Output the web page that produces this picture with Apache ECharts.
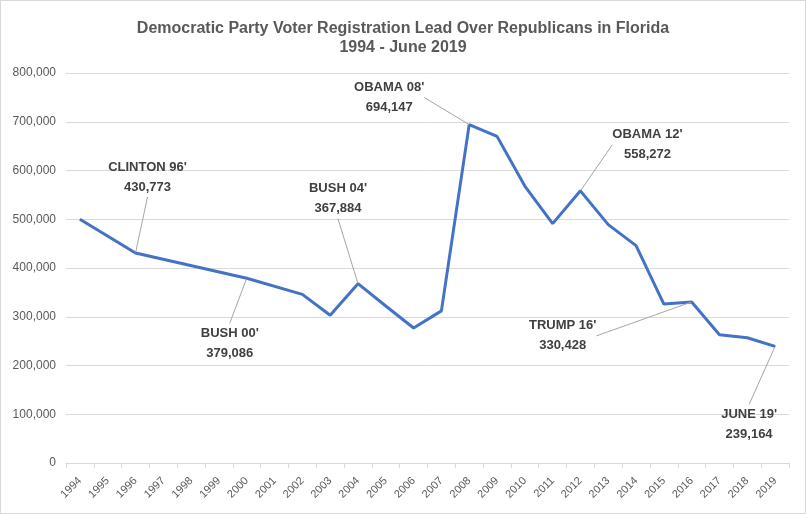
<!DOCTYPE html>
<html>
<head>
<meta charset="utf-8">
<script src="https://cdn.jsdelivr.net/npm/echarts@6/dist/echarts.min.js"></script>
<style>
  html, body { margin: 0; padding: 0; background: #fff; }
  #chart { width: 806px; height: 514px; box-sizing: border-box; border: 1px solid #d9d9d9; }
</style>
</head>
<body>
<div id="chart"></div>
<script>
// ---- Data ----
const years = ['1994','1995','1996','1997','1998','1999','2000','2001','2002','2003','2004','2005','2006',
               '2007','2008','2009','2010','2011','2012','2013','2014','2015','2016','2017','2018','2019'];
// Democratic registration lead (null = no data point shown in the reference)
const lead = [500000, null, 430773, null, null, null, 379086, null, 346000, 303000, 367884, 322000, 277000,
              312000, 694147, 670000, 568000, 491000, 558272, 489000, 446000, 326000, 330428, 263000, 257000, 239164];
const annoYears = ['1996', '2000', '2004', '2008', '2012', '2016', '2019'];
const annoNames = ["CLINTON 96'", "BUSH 00'", "BUSH 04'", "OBAMA 08'", "OBAMA 12'", "TRUMP 16'", "JUNE 19'"];
const yTicks = [0, 100000, 200000, 300000, 400000, 500000, 600000, 700000, 800000];

// ---- Label placement (pixel offsets of label centre from its point) ----
const labelOffsets = {
  '1996': [12, -76],
  '2000': [-17, 65],
  '2004': [-20, -85],
  '2008': [-80, -27],
  '2012': [67, -46],
  '2016': [-129, 34],
  '2019': [-26, 78]
};

const fmt = v => v.toLocaleString('en-US');

const seriesData = years.map((y, i) => {
  const k = annoYears.indexOf(y);
  if (k < 0 || lead[i] == null) return { value: lead[i], symbol: 'none' };
  return {
    value: lead[i],
    symbol: 'circle',
    symbolSize: 1,
    label: {
      show: true,
      formatter: annoNames[k] + '\n' + fmt(lead[i])
    }
  };
});

const chart = echarts.init(document.getElementById('chart'), null, { renderer: 'canvas' });
chart.setOption({
  animation: false,
  backgroundColor: '#ffffff',
  title: {
    text: 'Democratic Party Voter Registration Lead Over Republicans in Florida\n1994 - June 2019',
    left: 'center',
    top: 13,
    textStyle: {
      fontFamily: '"Liberation Sans", sans-serif',
      fontSize: 16,
      fontWeight: 'bold',
      color: '#595959',
      lineHeight: 19
    }
  },
  grid: { left: 65, right: 16, top: 72, bottom: 50, containLabel: false },
  xAxis: {
    type: 'category',
    data: years,
    boundaryGap: true,
    axisLine: { show: true, lineStyle: { color: '#d9d9d9', width: 1 } },
    axisTick: { show: true, alignWithLabel: false, length: 5, lineStyle: { color: '#d9d9d9' } },
    axisLabel: {
      interval: 0,
      rotate: 45,
      margin: 16,
      color: '#595959',
      fontSize: 11,
      fontFamily: '"Liberation Sans", sans-serif'
    },
    splitLine: { show: false }
  },
  yAxis: {
    type: 'value',
    min: yTicks[0],
    max: yTicks[yTicks.length - 1],
    interval: yTicks[1] - yTicks[0],
    axisLine: { show: false },
    axisTick: { show: false },
    axisLabel: {
      margin: 10,
      color: '#595959',
      fontSize: 12,
      fontFamily: '"Liberation Sans", sans-serif',
      formatter: v => fmt(v)
    },
    splitLine: { show: true, lineStyle: { color: '#d9d9d9', width: 1 } }
  },
  series: [{
    type: 'line',
    data: seriesData,
    connectNulls: true,
    showSymbol: true,
    showAllSymbol: true,
    lineStyle: { color: '#4472c4', width: 3 },
    itemStyle: { color: '#4472c4' },
    label: {
      position: 'inside',
      align: 'center',
      verticalAlign: 'middle',
      color: '#404040',
      fontSize: 13,
      fontWeight: 'bold',
      lineHeight: 20,
      fontFamily: '"Liberation Sans", sans-serif'
    },
    labelLine: { show: true, lineStyle: { color: '#a6a6a6', width: 1 } },
    labelLayout: function (params) {
      const y = years[params.dataIndex];
      const off = labelOffsets[y];
      if (!off) return {};
      return { dx: off[0], dy: off[1] };
    }
  }]
});
</script>
</body>
</html>
